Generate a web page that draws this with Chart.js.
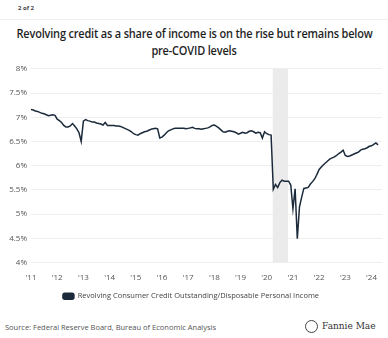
<!DOCTYPE html>
<html>
<head>
<meta charset="utf-8">
<script src="https://cdn.jsdelivr.net/npm/chart.js@4"></script>
<style>
  body { margin: 0; width: 388px; height: 338px; background: #fff; position: relative; overflow: hidden; font-family: "Open Sans", sans-serif; }
  #page { position: absolute; left: 18px; top: 4px; font-size: 6px; font-weight: 700; color: #444; }
  #sep { position: absolute; left: 0; right: 0; top: 19px; height: 1px; background: #f0f0f0; }
  #title { position: absolute; left: 0; width: 388px; top: 25px; text-align: center; white-space: nowrap; font-size: 12px; letter-spacing: -0.2px; line-height: 17px; font-weight: 600; color: #1f1f1f; transform: scaleX(0.915); transform-origin: 194px 0; }
  #wrap { position: absolute; left: 0; top: 60px; width: 388px; height: 250px; }
  #source { position: absolute; left: 5px; top: 322px; font-size: 7.5px; color: #555; }
  #logo { position: absolute; left: 305px; top: 320px; font-family: "DejaVu Serif", serif; font-size: 9px; color: #333; white-space: nowrap; }
  #logo span.ico { display: inline-block; width: 11px; height: 11px; border: 1px solid #444; border-radius: 50%; vertical-align: middle; margin-right: 4px; }
</style>
</head>
<body>
<div id="page">2 of 2</div>
<div id="sep"></div>
<div id="title">Revolving credit as a share of income is on the rise but remains below<br>pre-COVID levels</div>
<div id="wrap"><canvas id="chart"></canvas></div>
<div id="source">Source: Federal Reserve Board, Bureau of Economic Analysis</div>
<div id="logo"><span class="ico"></span>Fannie Mae</div>

<script>
// --- data (monthly, % of disposable personal income) ---
const startYear = 2011;
const values2011 = [7.16, 7.15, 7.13, 7.12, 7.10, 7.08, 7.07, 7.05, 7.03, 7.04, 7.05, 7.04];
const values2012 = [6.96, 6.93, 6.89, 6.83, 6.80, 6.80, 6.82, 6.87, 6.82, 6.76, 6.68, 6.50];
const values2013 = [6.92, 6.95, 6.93, 6.92, 6.90, 6.90, 6.88, 6.87, 6.86, 6.84, 6.89, 6.83];
const values2014 = [6.83, 6.83, 6.83, 6.82, 6.82, 6.81, 6.79, 6.77, 6.75, 6.73, 6.70, 6.66];
const values2015 = [6.64, 6.63, 6.66, 6.68, 6.70, 6.71, 6.73, 6.75, 6.76, 6.77, 6.76, 6.57];
const values2016 = [6.59, 6.63, 6.68, 6.72, 6.74, 6.76, 6.77, 6.77, 6.77, 6.77, 6.77, 6.76];
const values2017 = [6.77, 6.78, 6.79, 6.77, 6.76, 6.76, 6.75, 6.76, 6.77, 6.78, 6.80, 6.83];
const values2018 = [6.84, 6.81, 6.78, 6.74, 6.70, 6.69, 6.71, 6.72, 6.71, 6.70, 6.68, 6.65];
const values2019 = [6.67, 6.69, 6.67, 6.68, 6.71, 6.72, 6.70, 6.67, 6.69, 6.68, 6.57, 6.70];
const values2020 = [6.66, 6.64, 6.63, 5.51, 5.61, 5.55, 5.65, 5.70, 5.68, 5.68, 5.68, 5.60];
const values2021 = [5.11, 5.52, 4.49, 5.15, 5.35, 5.53, 5.54, 5.55, 5.62, 5.67, 5.73, 5.82];
const values2022 = [5.92, 5.97, 6.02, 6.06, 6.10, 6.14, 6.16, 6.18, 6.21, 6.25, 6.28, 6.32];
const values2023 = [6.21, 6.19, 6.20, 6.22, 6.24, 6.26, 6.28, 6.32, 6.34, 6.35, 6.37, 6.40];
const values2024 = [6.41, 6.44, 6.47, 6.43];

const yearTicks = [2011, 2012, 2013, 2014, 2015, 2016, 2017, 2018, 2019, 2020, 2021, 2022, 2023, 2024];
const yTicks = [4, 4.5, 5, 5.5, 6, 6.5, 7, 7.5, 8];
// shaded COVID period (decimal years)
const shadeStart = [2020.23];
const shadeEnd = [2020.81];

const seriesLabel = 'Revolving Consumer Credit Outstanding/Disposable Personal Income';
const lineColor = '#1b2a3b';

// build points {x: decimal year, y: value}
const allValues = [].concat(values2011, values2012, values2013, values2014, values2015, values2016,
  values2017, values2018, values2019, values2020, values2021, values2022, values2023, values2024);
const points = allValues.map((v, i) => ({ x: startYear + i / 12, y: v }));

// shading plugin, drawn behind the line
const shadePlugin = {
  id: 'shade',
  beforeDatasetsDraw(chart) {
    const { ctx, chartArea, scales } = chart;
    ctx.save();
    ctx.fillStyle = '#ebebeb';
    for (let i = 0; i < shadeStart.length; i++) {
      const x1 = scales.x.getPixelForValue(shadeStart[i]);
      const x2 = scales.x.getPixelForValue(shadeEnd[i]);
      ctx.fillRect(x1, chartArea.top, x2 - x1, chartArea.bottom - chartArea.top);
    }
    ctx.restore();
  }
};

new Chart(document.getElementById('chart'), {
  type: 'line',
  data: {
    datasets: [{
      label: seriesLabel,
      data: points,
      borderColor: lineColor,
      backgroundColor: lineColor,
      borderWidth: 1.5,
      pointRadius: 0,
      tension: 0
    }]
  },
  options: {
    responsive: true,
    maintainAspectRatio: false,
    animation: false,
    layout: { padding: { top: 7, right: 6, left: 0, bottom: 0 } },
    plugins: {
      legend: {
        position: 'bottom',
        labels: {
          boxWidth: 11, boxHeight: 6, padding: 10,
          color: '#444',
          font: { family: 'Open Sans', size: 7.5 },
          useBorderRadius: true, borderRadius: 2
        }
      },
      tooltip: { enabled: false }
    },
    scales: {
      x: {
        type: 'linear',
        min: 2011,
        max: 2024.4,
        afterBuildTicks: (scale) => { scale.ticks = yearTicks.map(v => ({ value: v })); },
        afterFit: (scale) => { scale.height = 20; },
        grid: { display: false },
        border: { display: false },
        ticks: {
          color: '#555',
          font: { family: 'Open Sans', size: 8 },
          padding: 2,
          maxRotation: 0,
          autoSkip: false,
          callback: (v) => "'" + String(v).slice(2)
        }
      },
      y: {
        min: 4,
        max: 8,
        afterBuildTicks: (scale) => { scale.ticks = yTicks.map(v => ({ value: v })); },
        afterFit: (scale) => { scale.width = 31; },
        grid: { color: '#efefef', drawTicks: false },
        border: { display: false },
        ticks: {
          color: '#555',
          font: { family: 'Open Sans', size: 8 },
          padding: 4,
          callback: (v) => v + '%'
        }
      }
    }
  },
  plugins: [shadePlugin]
});
</script>
</body>
</html>
